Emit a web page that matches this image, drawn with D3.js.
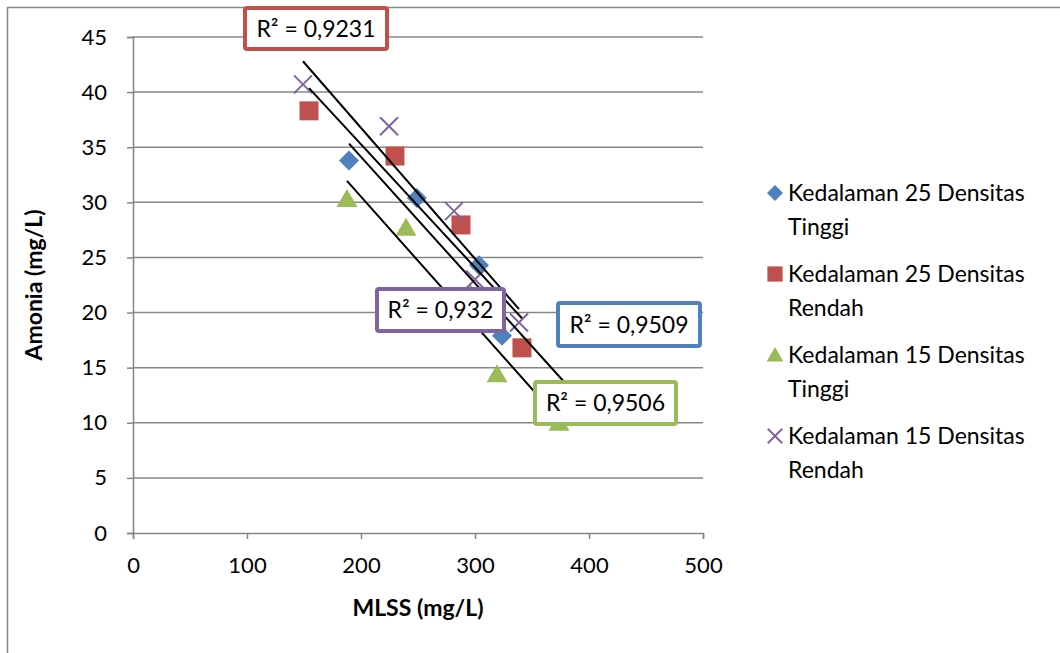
<!DOCTYPE html>
<html>
<head>
<meta charset="utf-8">
<script src="https://cdn.jsdelivr.net/npm/d3@7"></script>
<style>
  body { margin: 0; background: #fff; }
  text { font-family: Lato, "Open Sans", sans-serif; fill: #000; }
</style>
</head>
<body>
<div id="chart-area"></div>
<script>
// Data
var xTicks = [0, 100, 200, 300, 400, 500];
var yTicks = [0, 5, 10, 15, 20, 25, 30, 35, 40, 45];

var seriesNames = [
    ["Kedalaman 25 Densitas", "Tinggi"],
    ["Kedalaman 25 Densitas", "Rendah"],
    ["Kedalaman 15 Densitas", "Tinggi"],
    ["Kedalaman 15 Densitas", "Rendah"]
];

var mlssK25Tinggi = [189.5, 249, 303.5, 323.7, 382];
var amoniaK25Tinggi = [33.8, 30.4, 24.3, 17.9, 12.9];

var mlssK25Rendah = [154.4, 229.8, 287.7, 341.2];
var amoniaK25Rendah = [38.3, 34.2, 27.95, 16.8];

var mlssK15Tinggi = [187.7, 239.5, 295.6, 319.3, 373.7];
var amoniaK15Tinggi = [30.3, 27.7, 21.8, 14.4, 10.0];

var mlssK15Rendah = [149.1, 224.6, 281.6, 300, 338.6];
var amoniaK15Rendah = [40.7, 36.9, 29.2, 23.0, 19.1];

var r2Labels = ["R² = 0,9509", "R² = 0,9231", "R² = 0,9506", "R² = 0,932"];

// Series table
var colors = ["#4F81BD", "#C0504D", "#9BBB59", "#8064A2"];
var shapes = ["diamond", "square", "triangle", "cross"];
var xs = [mlssK25Tinggi, mlssK25Rendah, mlssK15Tinggi, mlssK15Rendah];
var ys = [amoniaK25Tinggi, amoniaK25Rendah, amoniaK15Tinggi, amoniaK15Rendah];
var series = xs.map(function(x, i) {
    return {
        name: seriesNames[i],
        color: colors[i],
        shape: shapes[i],
        r2: r2Labels[i],
        points: x.map(function(v, j) { return { x: v, y: ys[i][j] }; })
    };
});

// R² label boxes (pixel placement)
var labelBoxes = [
    { x: 558, y: 303, w: 142, h: 43 },
    { x: 245, y: 8, w: 142, h: 41 },
    { x: 535, y: 382, w: 141, h: 42 },
    { x: 377, y: 289, w: 127, h: 42 }
];

var W = 1060, H = 653;
var plot = { left: 133, right: 703, top: 37, bottom: 533 };

var svg = d3.select("#chart-area").append("svg")
    .attr("width", W)
    .attr("height", H);

// Chart frame (cut off at right/bottom)
svg.append("rect")
    .attr("x", 7.5).attr("y", 7.5)
    .attr("width", W + 20).attr("height", H + 20)
    .attr("fill", "#fff")
    .attr("stroke", "#868686")
    .attr("stroke-width", 1.5);

var x = d3.scaleLinear().domain([0, 500]).range([plot.left, plot.right]);
var y = d3.scaleLinear().domain([0, 45]).range([plot.bottom, plot.top]);

// Gridlines
svg.append("g")
    .selectAll("line")
    .data(yTicks.filter(function(d) { return d > 0; }))
    .enter().append("line")
    .attr("x1", plot.left).attr("x2", plot.right)
    .attr("y1", function(d) { return y(d); })
    .attr("y2", function(d) { return y(d); })
    .attr("stroke", "#878787")
    .attr("stroke-width", 1.5);

// Axes
var yAxis = svg.append("g")
    .attr("transform", "translate(" + plot.left + ",0)")
    .call(d3.axisLeft(y).tickValues(yTicks).tickSize(6).tickPadding(20));
var xAxis = svg.append("g")
    .attr("transform", "translate(0," + plot.bottom + ")")
    .call(d3.axisBottom(x).tickValues(xTicks).tickSize(6).tickPadding(18));

[xAxis, yAxis].forEach(function(g) {
    g.select(".domain").attr("stroke", "#868686").attr("stroke-width", 1.5);
    g.selectAll(".tick line").attr("stroke", "#868686").attr("stroke-width", 1.5);
    g.selectAll(".tick text")
        .style("font-family", "Lato, sans-serif")
        .style("font-size", "22px")
        .attr("fill", "#000");
});

// Axis titles
svg.append("text")
    .attr("transform", "translate(42," + ((plot.top + plot.bottom) / 2) + ") rotate(-90)")
    .attr("text-anchor", "middle")
    .style("font-size", "23px")
    .style("font-weight", "bold")
    .text("Amonia (mg/L)");

svg.append("text")
    .attr("x", (plot.left + plot.right) / 2)
    .attr("y", 616)
    .attr("text-anchor", "middle")
    .style("font-size", "23px")
    .style("font-weight", "bold")
    .text("MLSS (mg/L)");

// Marker drawing
function marker(g, shape, color, s) {
    if (shape === "diamond") {
        g.append("path")
            .attr("d", "M0," + (-s) + "L" + s + ",0L0," + s + "L" + (-s) + ",0Z")
            .attr("fill", color);
    } else if (shape === "square") {
        g.append("rect")
            .attr("x", -s * 0.95).attr("y", -s * 0.95)
            .attr("width", s * 1.9).attr("height", s * 1.9)
            .attr("fill", color);
    } else if (shape === "triangle") {
        g.append("path")
            .attr("d", "M0," + (-s) + "L" + (s * 1.05) + "," + (s * 0.8) + "L" + (-s * 1.05) + "," + (s * 0.8) + "Z")
            .attr("fill", color);
    } else {
        var c = s * 0.9;
        g.append("path")
            .attr("d", "M" + (-c) + "," + (-c) + "L" + c + "," + c + "M" + c + "," + (-c) + "L" + (-c) + "," + c)
            .attr("stroke", color)
            .attr("stroke-width", 2)
            .attr("fill", "none");
    }
}

series.forEach(function(s) {
    svg.append("g").selectAll("g")
        .data(s.points)
        .enter().append("g")
        .attr("transform", function(d) { return "translate(" + x(d.x) + "," + y(d.y) + ")"; })
        .each(function() { marker(d3.select(this), s.shape, s.color, 10); });
});

// Linear trendlines (least squares over each series' x range)
series.forEach(function(s) {
    var mx = d3.mean(s.points, function(d) { return d.x; });
    var my = d3.mean(s.points, function(d) { return d.y; });
    var sxy = d3.sum(s.points, function(d) { return (d.x - mx) * (d.y - my); });
    var sxx = d3.sum(s.points, function(d) { return (d.x - mx) * (d.x - mx); });
    var slope = sxy / sxx, icpt = my - slope * mx;
    var ext = d3.extent(s.points, function(d) { return d.x; });
    svg.append("line")
        .attr("x1", x(ext[0])).attr("y1", y(icpt + slope * ext[0]))
        .attr("x2", x(ext[1])).attr("y2", y(icpt + slope * ext[1]))
        .attr("stroke", "#000")
        .attr("stroke-width", 2);
});

// R² labels
series.forEach(function(s, i) {
    var b = labelBoxes[i];
    svg.append("rect")
        .attr("x", b.x).attr("y", b.y)
        .attr("width", b.w).attr("height", b.h)
        .attr("rx", 2)
        .attr("fill", "#fff")
        .attr("stroke", s.color)
        .attr("stroke-width", 4);
    svg.append("text")
        .attr("x", b.x + b.w / 2)
        .attr("y", b.y + b.h / 2 + 8)
        .attr("text-anchor", "middle")
        .style("font-size", "23px")
        .text(s.r2);
});

// Legend
var legend = svg.append("g");
series.forEach(function(s, i) {
    var top = 193 + i * 81;
    var g = legend.append("g").attr("transform", "translate(775," + top + ")");
    marker(g, s.shape, s.color, 8);
    g.append("text").attr("x", 13).attr("y", 8).style("font-size", "23px").text(s.name[0]);
    g.append("text").attr("x", 13).attr("y", 42).style("font-size", "23px").text(s.name[1]);
});
</script>
</body>
</html>
